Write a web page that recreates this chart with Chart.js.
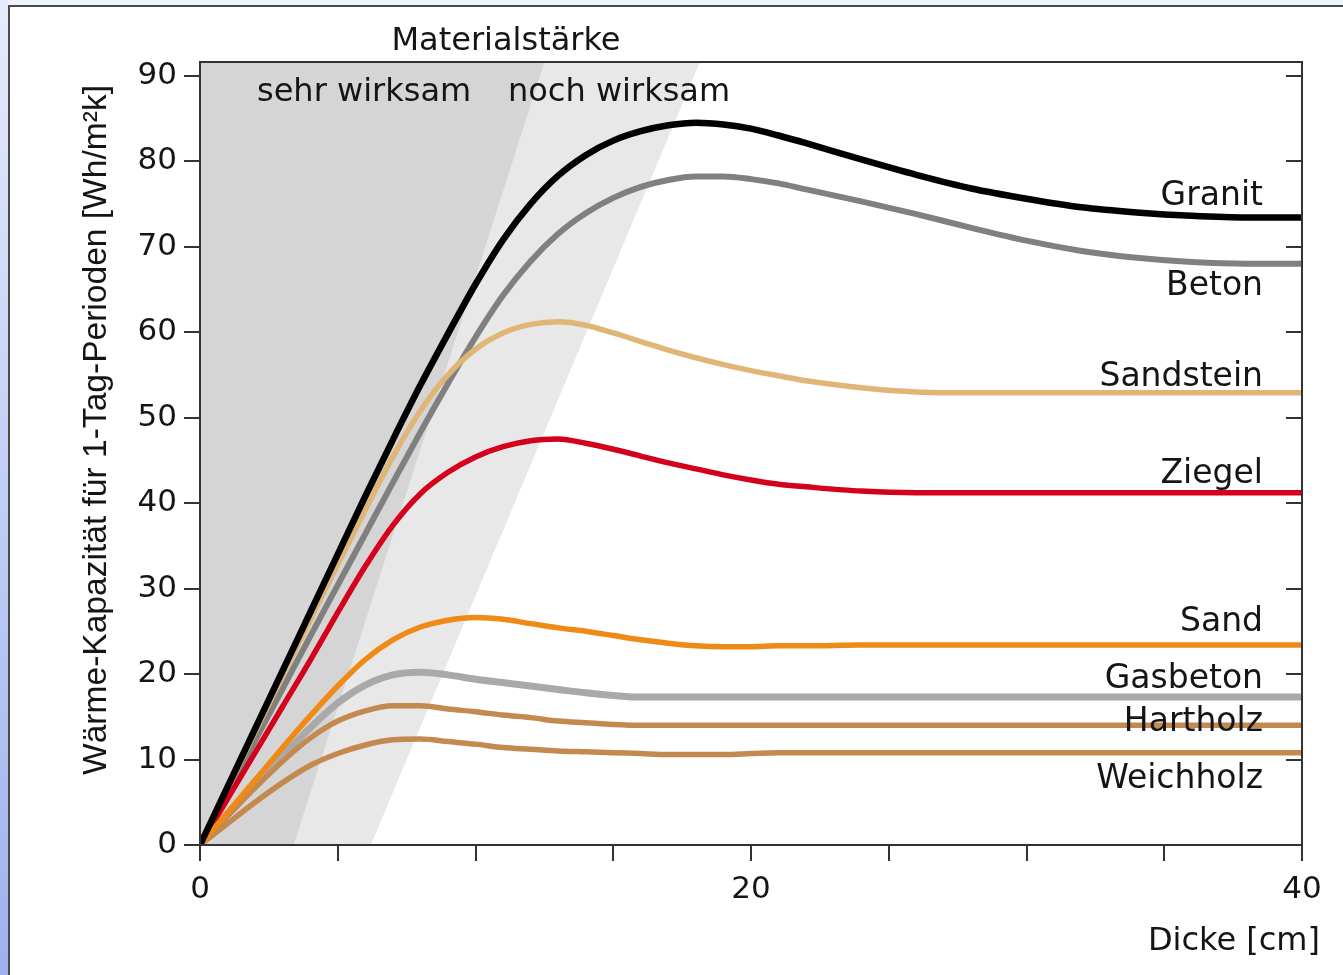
<!DOCTYPE html>
<html lang="de">
<head>
<meta charset="utf-8">
<title>Wärme-Kapazität</title>
<script src="https://cdn.jsdelivr.net/npm/chart.js@4.4.1/dist/chart.umd.min.js"></script>
<style>
  html, body { margin: 0; padding: 0; background: #fff; overflow: hidden; }
  #leiste { position: absolute; left: 0; top: 0; width: 8px; height: 975px; background: linear-gradient(#e6ebfb, #9db2ee); }
  #oben { position: absolute; left: 8px; top: 0; width: 1335px; height: 5px; background: #eef2fc; }
  #rahmen { position: absolute; left: 8px; top: 5px; width: 1345px; height: 985px; border: 2px solid #4a4a4a; box-sizing: border-box; }
  #diagramm { position: absolute; left: 0; top: 0; }
</style>
</head>
<body>
<div id="leiste"></div><div id="oben"></div><div id="rahmen"></div>
<canvas id="diagramm" width="1343" height="975"></canvas>
<script>
// Dicke [cm]
const dicke = [0, 1, 2, 3, 4, 5, 6, 7, 8, 9, 10, 11, 12, 13, 14, 15, 16, 17, 18, 19, 20, 21, 22, 24, 26, 28, 30, 32, 34, 36, 38, 40];

// Wärme-Kapazität [Wh/m²k]
const granit    = [0, 6.8, 13.6, 20.4, 27.2, 34.0, 40.8, 47.4, 53.8, 59.8, 65.6, 70.8, 75.0, 78.3, 80.7, 82.4, 83.5, 84.2, 84.5, 84.3, 83.8, 83.0, 82.1, 80.2, 78.4, 76.8, 75.6, 74.6, 74.0, 73.6, 73.4, 73.4];
const beton     = [0, 6.1, 12.2, 18.3, 24.4, 30.4, 36.4, 42.4, 48.3, 54.0, 59.4, 64.3, 68.3, 71.5, 73.9, 75.7, 77.0, 77.8, 78.2, 78.2, 77.9, 77.4, 76.7, 75.3, 73.8, 72.2, 70.7, 69.5, 68.7, 68.2, 68.0, 68.0];
const sandstein = [0, 6.6, 13.2, 19.8, 26.3, 32.8, 39.2, 45.4, 50.8, 55.0, 58.0, 59.9, 60.9, 61.2, 60.8, 59.9, 58.9, 57.9, 57.0, 56.2, 55.5, 54.9, 54.3, 53.5, 53.0, 52.9, 52.9, 52.9, 52.9, 52.9, 52.9, 52.9];
const ziegel    = [0, 5.4, 10.8, 16.2, 21.6, 27.2, 32.6, 37.4, 41.1, 43.6, 45.4, 46.6, 47.3, 47.5, 47.0, 46.3, 45.5, 44.7, 44.0, 43.3, 42.7, 42.2, 41.9, 41.4, 41.2, 41.2, 41.2, 41.2, 41.2, 41.2, 41.2, 41.2];
const sand      = [0, 3.8, 7.6, 11.4, 15.1, 18.6, 21.7, 24.0, 25.5, 26.3, 26.6, 26.4, 25.9, 25.4, 25.0, 24.5, 24.0, 23.6, 23.3, 23.2, 23.2, 23.3, 23.3, 23.4, 23.4, 23.4, 23.4, 23.4, 23.4, 23.4, 23.4, 23.4];
const gasbeton  = [0, 3.5, 7.0, 10.4, 13.7, 16.6, 18.7, 19.9, 20.2, 19.9, 19.4, 19.0, 18.6, 18.2, 17.8, 17.5, 17.3, 17.3, 17.3, 17.3, 17.3, 17.3, 17.3, 17.3, 17.3, 17.3, 17.3, 17.3, 17.3, 17.3, 17.3, 17.3];
const hartholz  = [0, 3.4, 6.7, 9.8, 12.5, 14.5, 15.7, 16.3, 16.3, 15.9, 15.6, 15.2, 14.9, 14.5, 14.3, 14.1, 14.0, 14.0, 14.0, 14.0, 14.0, 14.0, 14.0, 14.0, 14.0, 14.0, 14.0, 14.0, 14.0, 14.0, 14.0, 14.0];
const weichholz = [0, 2.5, 5.0, 7.3, 9.3, 10.7, 11.7, 12.3, 12.4, 12.1, 11.8, 11.4, 11.2, 11.0, 10.9, 10.8, 10.7, 10.6, 10.6, 10.6, 10.7, 10.8, 10.8, 10.8, 10.8, 10.8, 10.8, 10.8, 10.8, 10.8, 10.8, 10.8];

// Bereiche der Materialstärke (Grenzlinien)
const yMax = 91.6;
const sehrWirksamX = [0, 3.4, 12.5];
const sehrWirksamY = [0, 0, yMax];
const nochWirksamX = [0, 6.2, 18.15];
const nochWirksamY = [0, 0, yMax];

const xTickSchritt = 5;
const yTickSchritt = 10;

const serien = [
  { name: 'Granit',    werte: granit,    farbe: '#000000', breite: 6.5 },
  { name: 'Sand',      werte: sand,      farbe: '#f08a16', breite: 5.5 },
  { name: 'Ziegel',    werte: ziegel,    farbe: '#d4001c', breite: 5.5 },
  { name: 'Sandstein', werte: sandstein, farbe: '#e0b677', breite: 5.5 },
  { name: 'Beton',     werte: beton,     farbe: '#808080', breite: 6 },
  { name: 'Hartholz',  werte: hartholz,  farbe: '#c4894f', breite: 5.5 },
  { name: 'Weichholz', werte: weichholz, farbe: '#c4894f', breite: 5.5 },
  { name: 'Gasbeton',  werte: gasbeton,  farbe: '#a9a9a9', breite: 7 }
];

// Beschriftung der Kurven (rechtsbündig, Grundlinie im Datenwert)
const kurvenText = [
  { text: 'Granit', y: 74.9 },
  { text: 'Beton', y: 64.3 },
  { text: 'Sandstein', y: 53.7 },
  { text: 'Ziegel', y: 42.4 },
  { text: 'Sand', y: 25.0 },
  { text: 'Gasbeton', y: 18.4 },
  { text: 'Hartholz', y: 13.3 },
  { text: 'Weichholz', y: 6.7 }
];

const schrift = "'DejaVu Sans', 'Liberation Sans', sans-serif";
const textFarbe = '#151515';

const datasets = serien.map(s => ({
  label: s.name,
  data: dicke.map((d, i) => ({ x: d, y: s.werte[i] })),
  borderColor: s.farbe,
  borderWidth: s.breite,
  pointRadius: 0,
  fill: false,
  cubicInterpolationMode: 'monotone'
}));

datasets.push({
  label: 'sehr wirksam',
  data: sehrWirksamX.map((x, i) => ({ x, y: sehrWirksamY[i] })),
  borderWidth: 0,
  borderColor: 'rgba(0,0,0,0)',
  backgroundColor: '#d5d5d5',
  pointRadius: 0,
  tension: 0,
  fill: 'end'
});
datasets.push({
  label: 'noch wirksam',
  data: nochWirksamX.map((x, i) => ({ x, y: nochWirksamY[i] })),
  borderWidth: 0,
  borderColor: 'rgba(0,0,0,0)',
  backgroundColor: '#e8e8e8',
  pointRadius: 0,
  tension: 0,
  fill: 'end'
});

// Rahmen, innere Ticks rechts und Texte
const beschriftung = {
  id: 'beschriftung',
  afterDraw(chart) {
    const { ctx, chartArea: a, scales: { x, y } } = chart;
    ctx.save();
    ctx.strokeStyle = '#333';
    ctx.lineWidth = 2;
    ctx.strokeRect(a.left, a.top, a.right - a.left, a.bottom - a.top);

    ctx.beginPath();
    for (let v = yTickSchritt; v < yMax; v += yTickSchritt) {
      const py = Math.round(y.getPixelForValue(v));
      ctx.moveTo(a.right, py);
      ctx.lineTo(a.right - 16, py);
    }
    ctx.stroke();

    ctx.fillStyle = textFarbe;
    ctx.font = '32px ' + schrift;
    ctx.textBaseline = 'alphabetic';
    ctx.textAlign = 'center';
    ctx.fillText('Materialstärke', 506, 50);
    ctx.textAlign = 'left';
    ctx.fillText('sehr wirksam', 257, 101);
    ctx.fillText('noch wirksam', 508, 101);

    ctx.font = '33px ' + schrift;
    ctx.textAlign = 'right';
    const rechts = x.getPixelForValue(40) - 39;
    kurvenText.forEach(k => ctx.fillText(k.text, rechts, y.getPixelForValue(k.y)));

    ctx.font = '32px ' + schrift;
    ctx.fillText('Dicke [cm]', 1320, 950);

    // y-Achsentitel, schmal gesetzt
    const titel = 'Wärme-Kapazität für 1-Tag-Perioden [Wh/m²k]';
    ctx.font = "33px 'Liberation Sans Narrow', 'Liberation Sans', sans-serif";
    const w = ctx.measureText(titel).width;
    ctx.translate(97, 430);
    ctx.rotate(-Math.PI / 2);
    ctx.scale(690 / w, 1);
    ctx.textAlign = 'center';
    ctx.textBaseline = 'middle';
    ctx.fillText(titel, 0, 0);
    ctx.restore();
  }
};

new Chart(document.getElementById('diagramm'), {
  type: 'line',
  data: { datasets },
  plugins: [beschriftung],
  options: {
    responsive: false,
    animation: false,
    layout: { padding: { left: 0, top: 62, right: 41, bottom: 70 } },
    plugins: { legend: { display: false }, tooltip: { enabled: false } },
    scales: {
      x: {
        type: 'linear', min: 0, max: 40,
        afterFit: s => { s.height = 60; },
        ticks: {
          stepSize: xTickSchritt,
          padding: 10,
          maxRotation: 0,
          color: textFarbe,
          font: { family: schrift, size: 31 },
          callback: v => (v % 20 === 0 ? v : '')
        },
        grid: { drawOnChartArea: false, tickLength: 16, color: '#333', lineWidth: 2 },
        border: { color: '#333', width: 2 }
      },
      y: {
        type: 'linear', min: 0, max: yMax,
        afterFit: s => { s.width = 200; },
        ticks: {
          stepSize: yTickSchritt,
          includeBounds: false,
          padding: 7,
          color: textFarbe,
          font: { family: schrift, size: 31 }
        },
        grid: { drawOnChartArea: false, tickLength: 16, color: '#333', lineWidth: 2 },
        border: { color: '#333', width: 2 }
      }
    }
  }
});
</script>
</body>
</html>
